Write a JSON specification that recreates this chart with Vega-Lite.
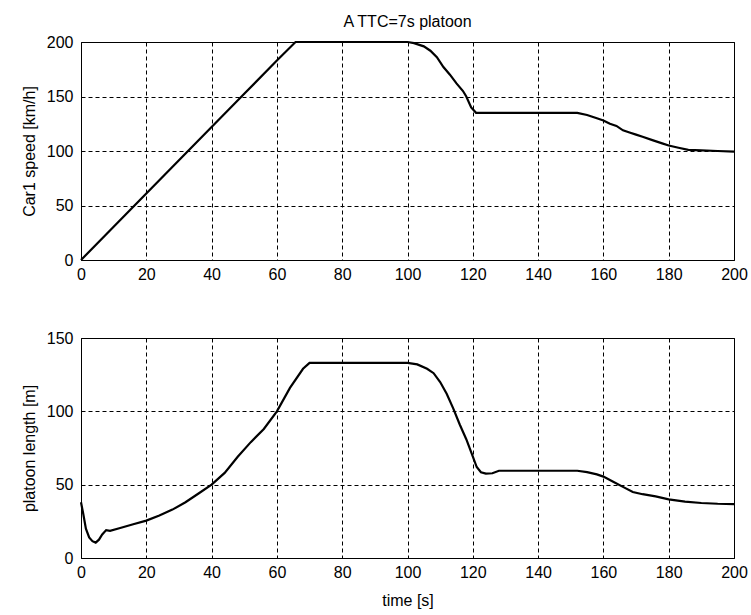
{
  "$schema": "https://vega.github.io/schema/vega-lite/v6.json",
  "background": "white",
  "padding": {"left": 20, "top": 13, "right": 10, "bottom": 5},
  "bounds": "flush",
  "spacing": 78,
  "datasets": {
    "speed": [
      {"t": 0, "v": 0}, {"t": 10, "v": 30.5}, {"t": 20, "v": 61}, {"t": 30, "v": 91.5},
      {"t": 40, "v": 122}, {"t": 50, "v": 152.5}, {"t": 60, "v": 183}, {"t": 65.7, "v": 200},
      {"t": 70, "v": 200}, {"t": 80, "v": 200}, {"t": 90, "v": 200}, {"t": 100, "v": 200},
      {"t": 102, "v": 199}, {"t": 105, "v": 196}, {"t": 107, "v": 192}, {"t": 109, "v": 186},
      {"t": 111, "v": 177}, {"t": 113, "v": 170}, {"t": 115, "v": 162}, {"t": 117, "v": 155},
      {"t": 118, "v": 150}, {"t": 119.5, "v": 140}, {"t": 121, "v": 135}, {"t": 125, "v": 135},
      {"t": 140, "v": 135}, {"t": 152, "v": 135}, {"t": 155, "v": 133}, {"t": 158, "v": 130},
      {"t": 160, "v": 128}, {"t": 162, "v": 125}, {"t": 164, "v": 123}, {"t": 166, "v": 119},
      {"t": 168, "v": 117}, {"t": 170, "v": 115}, {"t": 172, "v": 113}, {"t": 175, "v": 110},
      {"t": 178, "v": 107}, {"t": 180, "v": 105}, {"t": 183, "v": 103}, {"t": 186, "v": 101},
      {"t": 190, "v": 100.5}, {"t": 195, "v": 100}, {"t": 200, "v": 99.5}
    ],
    "length": [
      {"t": 0, "l": 38}, {"t": 0.7, "l": 30}, {"t": 1.5, "l": 20}, {"t": 2.5, "l": 14},
      {"t": 3.5, "l": 11.5}, {"t": 4.5, "l": 10.5}, {"t": 5.5, "l": 12.5}, {"t": 6.5, "l": 16},
      {"t": 7.7, "l": 19}, {"t": 8.9, "l": 18.5}, {"t": 12, "l": 20.5}, {"t": 16, "l": 23},
      {"t": 20, "l": 25.5}, {"t": 24, "l": 29}, {"t": 28, "l": 33}, {"t": 32, "l": 38},
      {"t": 36, "l": 44}, {"t": 40, "l": 50}, {"t": 44, "l": 58}, {"t": 48, "l": 69},
      {"t": 52, "l": 79}, {"t": 56, "l": 88}, {"t": 60, "l": 100}, {"t": 64, "l": 116},
      {"t": 68, "l": 129}, {"t": 70, "l": 133}, {"t": 80, "l": 133}, {"t": 90, "l": 133},
      {"t": 100, "l": 133}, {"t": 103, "l": 132}, {"t": 106, "l": 129}, {"t": 108, "l": 126},
      {"t": 110, "l": 120}, {"t": 112, "l": 112}, {"t": 114, "l": 102}, {"t": 116, "l": 91},
      {"t": 118, "l": 81}, {"t": 119.7, "l": 71}, {"t": 121.2, "l": 62}, {"t": 122.5, "l": 58.5},
      {"t": 124, "l": 57.5}, {"t": 126, "l": 57.8}, {"t": 128, "l": 59.5}, {"t": 140, "l": 59.5},
      {"t": 152, "l": 59.5}, {"t": 155, "l": 58.5}, {"t": 158, "l": 57}, {"t": 160, "l": 55.5},
      {"t": 163, "l": 52}, {"t": 166, "l": 48.5}, {"t": 169, "l": 45}, {"t": 172, "l": 43.5},
      {"t": 176, "l": 42}, {"t": 180, "l": 40}, {"t": 185, "l": 38.5}, {"t": 190, "l": 37.5},
      {"t": 195, "l": 37}, {"t": 200, "l": 36.8}
    ]
  },
  "vconcat": [
    {
      "width": 653,
      "height": 218,
      "title": {"text": "A TTC=7s platoon", "offset": 4},
      "data": {"name": "speed"},
      "mark": {"type": "line", "color": "black", "strokeWidth": 2.2},
      "encoding": {
        "x": {"field": "t", "type": "quantitative", "scale": {"domain": [0, 200], "nice": false},
              "axis": {"title": null, "values": [0, 20, 40, 60, 80, 100, 120, 140, 160, 180, 200]}},
        "y": {"field": "v", "type": "quantitative", "scale": {"domain": [0, 200], "nice": false},
              "axis": {"title": "Car1  speed [km/h]", "values": [0, 50, 100, 150, 200]}}
      }
    },
    {
      "width": 653,
      "height": 220,
      "data": {"name": "length"},
      "mark": {"type": "line", "color": "black", "strokeWidth": 2.2},
      "encoding": {
        "x": {"field": "t", "type": "quantitative", "scale": {"domain": [0, 200], "nice": false},
              "axis": {"title": "time [s]", "titlePadding": 12, "values": [0, 20, 40, 60, 80, 100, 120, 140, 160, 180, 200]}},
        "y": {"field": "l", "type": "quantitative", "scale": {"domain": [0, 150], "nice": false},
              "axis": {"title": "platoon length [m]", "values": [0, 50, 100, 150]}}
      }
    }
  ],
  "config": {
    "font": "Liberation Sans",
    "view": {"stroke": "black", "strokeWidth": 1},
    "title": {"font": "Liberation Sans", "fontSize": 16, "fontWeight": "normal", "color": "black", "anchor": "middle"},
    "axis": {
      "domain": false,
      "ticks": false,
      "grid": true,
      "gridColor": "black",
      "gridOpacity": 1,
      "gridWidth": 1,
      "gridDash": [4, 3],
      "labelFont": "Liberation Sans",
      "labelFontSize": 16,
      "labelColor": "black",
      "labelPadding": 6,
      "labelFlush": false,
      "labelOverlap": false,
      "titleFont": "Liberation Sans",
      "titleFontSize": 16,
      "titleFontWeight": "normal",
      "titleColor": "black"
    },
    "axisY": {"labelPadding": 8, "titlePadding": 9},
    "axisX": {"titlePadding": 4}
  }
}
